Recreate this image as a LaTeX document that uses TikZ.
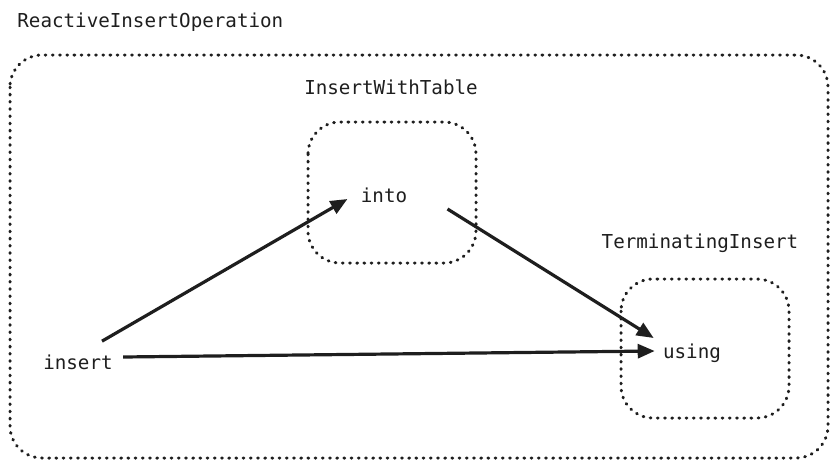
\documentclass[tikz,border=0pt]{standalone}
\usepackage{fontspec}
\setmonofont{DejaVu Sans Mono}
\usepackage{xcolor}
\usepackage{tikz}
\usetikzlibrary{calc}
\usetikzlibrary{arrows.meta}
\definecolor{op-black}{RGB}{30, 30, 30}
\tikzset{
  dotbox/.style = {op-black, line width=1.5pt, line cap=round, dash pattern=on 0.4pt off 3.2pt, rounded corners=16pt},
  callarrow/.style = {op-black, line width=1.6pt, -{Triangle[length=8.5pt, width=7pt]}},
  opname/.style = {inner sep=0pt, font=\ttfamily\fontsize{9.6}{11}\selectfont, text=op-black}
}

\begin{document}
\begin{tikzpicture}[x=0.5pt, y=-0.5pt]
          \useasboundingbox (0, 0) rectangle (836, 467);

          \draw[dotbox] (10, 55) rectangle (828, 458);
          \draw[dotbox] (308, 122) rectangle (476, 263);
          \draw[dotbox] (621, 279) rectangle (789, 418);

          \node[opname, anchor=west] (reactive) at (17, 22) {ReactiveInsertOperation};
          \node[opname] (withtable) at (391, 87) {InsertWithTable};
          \node[opname] (terminating) at (700, 243) {TerminatingInsert};

          \node[opname] (insert) at (78, 362) {insert};
          \node[opname] (into) at (384, 195) {into};
          \node[opname] (using) at (692, 353) {using};

          \draw[callarrow] ($(insert.north)+(24, -13)$) -- ($(into.west)+(-13, 4)$);
          \draw[callarrow] ($(insert.east)+(10, -5)$) -- ($(using.west)+(-8, -2)$);
          \draw[callarrow] ($(into.east)+(40, 14)$) -- ($(using.west)+(-9, -15)$);
        \end{tikzpicture}
\end{document}
